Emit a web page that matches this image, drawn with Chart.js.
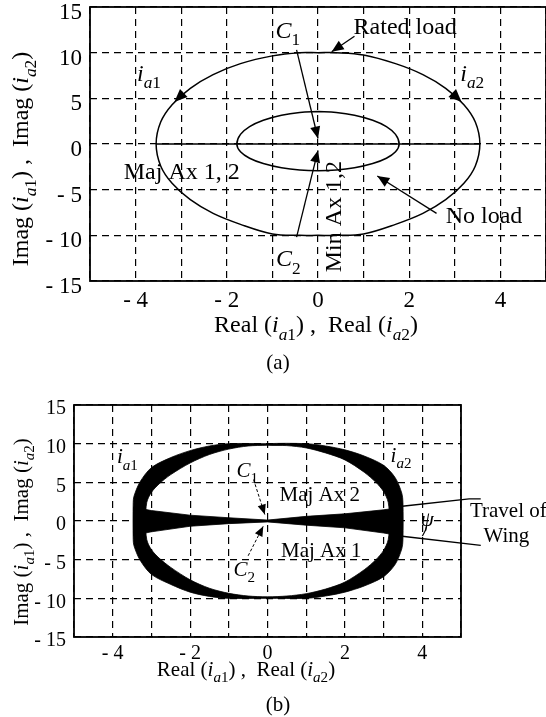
<!DOCTYPE html>
<html lang="en">
<head>
<meta charset="UTF-8">
<title>Current loci</title>
<script src="https://cdn.jsdelivr.net/npm/chart.js@4.4.0/dist/chart.umd.min.js"></script>
<style>
    body { margin: 0; background: #fff; }
    #wrap { position: relative; width: 546px; height: 717px; overflow: hidden; }
    #wrap canvas { position: absolute; left: 0; }
    #chartA { top: 0; }
    #chartB { top: 375px; }
</style>
</head>
<body>
<div id="wrap">
    <canvas id="chartA" width="546" height="375"></canvas>
    <canvas id="chartB" width="546" height="342"></canvas>
</div>
<script>
// ticks (both panels)
var xTickVals = [-5, -4, -3, -2, -1, 0, 1, 2, 3, 4, 5];
var xTickLabels = ['', '- 4', '', '- 2', '', '0', '', '2', '', '4', ''];
var yTickVals = [-15, -10, -5, 0, 5, 10, 15];
var yTickLabels = ['- 15', '- 10', '- 5', '0', '5', '10', '15'];

// (a) rated load locus, starting at the top
var ratedX = [0, -0.4, -1.0, -1.7, -2.3, -2.8, -3.2, -3.45, -3.55, -3.45, -3.2, -2.8, -2.3, -1.7, -1.0, -0.4, 0, 0.4, 1.0, 1.7, 2.3, 2.8, 3.2, 3.45, 3.55, 3.45, 3.2, 2.8, 2.3, 1.7, 1.0, 0.4, 0];
var ratedY = [10, 10, 9.65, 8.8, 7.6, 6.1, 4.3, 2.4, 0, -2.4, -4.3, -6.1, -7.6, -8.8, -9.85, -10, -10, -10, -9.85, -8.8, -7.6, -6.1, -4.3, -2.4, 0, 2.4, 4.3, 6.1, 7.6, 8.8, 9.75, 10, 10];
// (a) no load locus
var noLoadX = [0, -0.4, -0.8, -1.2, -1.5, -1.7, -1.78, -1.7, -1.5, -1.2, -0.8, -0.4, 0, 0.4, 0.8, 1.2, 1.5, 1.7, 1.78, 1.7, 1.5, 1.2, 0.8, 0.4, 0];
var noLoadY = [3.55, 3.45, 3.15, 2.6, 1.9, 1.05, 0, -0.86, -1.56, -2.14, -2.6, -2.85, -2.92, -2.85, -2.6, -2.14, -1.56, -0.86, 0, 1.05, 1.9, 2.6, 3.15, 3.45, 3.55];
// (a) major axis
var majAxX = [-3.55, 3.55];
var majAxY = [0, 0];
// (a) arrows: [x from, y from, x tip, y tip]
var arrowsA = [
    [-0.47, 10.3, 0, 0.6],
    [-0.47, -10.2, 0, -0.7],
    [0.8, 11.8, 0.3, 10.1],
    [2.6, -7.6, 1.3, -3.5]
];
var headsA = [
    [-2.95, 5.56, -3.15, 4.61],
    [2.95, 5.56, 3.15, 4.61]
];

// (b) band swept by the two loci, outer and inner edge
var ringOuterX = [0, -1.0, -1.5, -2.0, -2.5, -3.0, -3.3, -3.45, -3.47, -3.47, -3.45, -3.3, -3.0, -2.5, -2.0, -1.5, -1.0, 0, 1.0, 1.5, 2.0, 2.5, 3.0, 3.3, 3.47, 3.5, 3.5, 3.47, 3.3, 3.0, 2.5, 2.0, 1.5, 1.0, 0];
var ringOuterY = [10, 10, 9.7, 9.1, 8.2, 6.9, 5.0, 3.2, 2.4, -2.4, -3.2, -5.0, -6.9, -8.2, -9.2, -9.75, -10, -10, -10, -9.7, -9.2, -8.4, -7.2, -5.6, -3.6, -2.4, 2.4, 3.6, 5.6, 7.2, 8.4, 9.2, 9.7, 10, 10];
var ringInnerX = [0, -0.5, -1.0, -1.5, -2.0, -2.5, -2.8, -3.0, -3.12, -3.15, -3.12, -3.0, -2.8, -2.5, -2.0, -1.5, -1.0, -0.5, 0, 0.5, 1.0, 1.5, 2.0, 2.5, 2.8, 3.0, 3.12, 3.15, 3.12, 3.0, 2.8, 2.5, 2.0, 1.5, 1.0, 0.5, 0];
var ringInnerY = [9.8, 9.7, 9.3, 8.6, 7.5, 6.0, 4.8, 3.7, 2.4, 0, -2.4, -3.7, -4.8, -6.0, -7.6, -8.7, -9.35, -9.7, -9.8, -9.7, -9.4, -8.8, -7.9, -6.3, -5.0, -3.8, -2.4, 0, 2.4, 3.8, 5.0, 6.3, 7.9, 8.8, 9.45, 9.75, 9.8];
// (b) swept major axes (wedge)
var wedgeX = [-3.47, -3.0, -2.0, -1.0, 0, 1.0, 2.0, 3.0, 3.47, 3.47, 3.0, 2.0, 1.0, 0, -1.0, -2.0, -3.0, -3.47];
var wedgeY = [1.8, 1.35, 0.75, 0.42, 0.12, 0.6, 0.93, 1.45, 1.75, -1.95, -1.55, -0.88, -0.54, -0.12, -0.34, -0.68, -1.4, -1.87];
// (b) travel of wing lines and angle mark
var travelUpX = [5.51, 5.21, 3.48];
var travelUpY = [2.87, 2.87, 1.91];
var travelLoX = [5.51, 3.48];
var travelLoY = [-3.16, -1.97];
var psiArcX = [4.12, 4.08, 4.0];
var psiArcY = [-0.5, -1.2, -1.95];
var arrowsB = [
    [-0.36, 5.36, -0.07, 0.84],
    [-0.5, -4.5, -0.11, -0.67]
];

var FAM = '"Liberation Serif", "Times New Roman", serif';

function pts(xs, ys) {
    return xs.map(function (x, i) { return { x: x, y: ys[i] }; });
}

function ia(n) {
    return [['i', 'it'], ['a', 'it sub'], [n, 'sub']];
}

function drawRuns(ctx, runs, x, y, size, align, rot) {
    function fontFor(st) {
        var s = st.indexOf('sub') >= 0 ? size * 0.72 : size;
        return (st.indexOf('it') >= 0 ? 'italic ' : '') + s.toFixed(1) + 'px ' + FAM;
    }
    var w = 0;
    runs.forEach(function (r) { ctx.font = fontFor(r[1]); w += ctx.measureText(r[0]).width; });
    ctx.save();
    ctx.translate(x, y);
    if (rot) ctx.rotate(rot);
    var cx = align === 'left' ? 0 : -w / 2;
    ctx.textBaseline = 'middle';
    ctx.textAlign = 'left';
    ctx.fillStyle = '#000';
    runs.forEach(function (r) {
        ctx.font = fontFor(r[1]);
        var dy = r[1].indexOf('sub') >= 0 ? size * 0.38 : 0;
        ctx.fillText(r[0], cx, dy);
        cx += ctx.measureText(r[0]).width;
    });
    ctx.restore();
}

// frame, arrowheads, in-plot labels, axis titles and caption
var decor = {
    id: 'decor',
    afterDatasetsDraw: function (chart, args, opts) {
        var ctx = chart.ctx;
        var a = chart.chartArea;
        ctx.save();
        ctx.strokeStyle = '#000';
        ctx.lineWidth = 1.8;
        ctx.setLineDash([]);
        ctx.strokeRect(a.left, a.top, a.right - a.left, a.bottom - a.top);

        chart.data.datasets.forEach(function (ds, i) {
            if (!ds.arrowHead) return;
            var el = chart.getDatasetMeta(i).data;
            var p1 = el[el.length - 1], p0 = el[el.length - 2];
            var ang = Math.atan2(p1.y - p0.y, p1.x - p0.x);
            var L = ds.headLen, H = ds.headLen * 0.42;
            ctx.save();
            ctx.translate(p1.x, p1.y);
            ctx.rotate(ang);
            ctx.fillStyle = '#000';
            ctx.beginPath();
            ctx.moveTo(0, 0);
            ctx.lineTo(-L, -H);
            ctx.lineTo(-L, H);
            ctx.closePath();
            ctx.fill();
            ctx.restore();
        });

        var sx = chart.scales.x, sy = chart.scales.y;
        opts.labels.forEach(function (l) {
            drawRuns(ctx, l.runs, sx.getPixelForValue(l.x), sy.getPixelForValue(l.y), opts.size, l.align, l.rot);
        });
        var t = opts.titles;
        drawRuns(ctx, t.x.runs, t.x.px, t.x.py, t.size, 'center', 0);
        drawRuns(ctx, t.y.runs, t.y.px, t.y.py, t.size, 'center', -Math.PI / 2);
        drawRuns(ctx, [[t.cap.text, '']], t.cap.px, t.cap.py, t.cap.size, 'center', 0);
        ctx.restore();
    }
};

function lineSet(data, width, extra) {
    var d = { data: data, showLine: true, borderColor: '#000', borderWidth: width, pointRadius: 0, fill: false, tension: 0 };
    for (var k in extra) d[k] = extra[k];
    return d;
}

function arrowSets(list, width, head, dash) {
    return list.map(function (r) {
        return lineSet(pts([r[0], r[2]], [r[1], r[3]]), width, { arrowHead: true, headLen: head, borderDash: dash || [] });
    });
}

function makeOptions(cfg) {
    return {
        responsive: false,
        animation: false,
        events: [],
        layout: { padding: cfg.padding },
        plugins: {
            legend: { display: false },
            tooltip: { enabled: false },
            decor: cfg.decor
        },
        scales: {
            x: {
                type: 'linear', min: -5, max: 5,
                afterBuildTicks: function (s) { s.ticks = xTickVals.map(function (v) { return { value: v }; }); },
                afterFit: function (s) { s.height = cfg.xHeight; s.paddingLeft = 0; s.paddingRight = 0; },
                ticks: {
                    autoSkip: false, maxRotation: 0, padding: cfg.xPad, color: '#000',
                    font: { family: FAM, size: cfg.tick },
                    callback: function (v) { return xTickLabels[xTickVals.indexOf(v)]; }
                },
                grid: { color: '#000', lineWidth: 1.2, drawTicks: false },
                border: { display: false, dash: [7, 5] }
            },
            y: {
                type: 'linear', min: -15, max: 15,
                afterBuildTicks: function (s) { s.ticks = yTickVals.map(function (v) { return { value: v }; }); },
                afterFit: function (s) { s.width = cfg.yWidth; s.paddingTop = 0; s.paddingBottom = 0; },
                ticks: {
                    padding: 8, labelOffset: cfg.yOff, color: '#000',
                    font: { family: FAM, size: cfg.tick },
                    callback: function (v) { return yTickLabels[yTickVals.indexOf(v)]; }
                },
                grid: { color: '#000', lineWidth: 1.2, drawTicks: false },
                border: { display: false, dash: [7, 5] }
            }
        }
    };
}

Chart.register(decor);

// ---------- (a) ----------
var dsA = [
    lineSet(pts(ratedX, ratedY), 1.5, { tension: 0.35 }),
    lineSet(pts(noLoadX, noLoadY), 1.5, { tension: 0.35 }),
    lineSet(pts(majAxX, majAxY), 1.6, {})
].concat(arrowSets(arrowsA, 1.3, 12)).concat(arrowSets(headsA, 0, 13));

new Chart(document.getElementById('chartA'), {
    type: 'scatter',
    data: { datasets: dsA },
    options: makeOptions({
        padding: { top: 7, right: 0, bottom: 0, left: 0 },
        xHeight: 94, yWidth: 90, xPad: 6, yOff: 6, tick: 23,
        decor: {
            size: 24,
            labels: [
                { runs: [['C', 'it'], ['1', 'sub']], x: -0.66, y: 12.3 },
                { runs: [['C', 'it'], ['2', 'sub']], x: -0.65, y: -12.7 },
                { runs: ia('1'), x: -3.97, y: 7.6, align: 'left' },
                { runs: ia('2'), x: 3.12, y: 7.6, align: 'left' },
                { runs: [['Rated load', '']], x: 0.78, y: 12.75, align: 'left' },
                { runs: [['No load', '']], x: 2.8, y: -7.95, align: 'left' },
                { runs: [['Maj Ax 1, 2', '']], x: -4.26, y: -3.1, align: 'left' },
                { runs: [['Min Ax 1,2', '']], x: 0.36, y: -7.95, rot: -Math.PI / 2 }
            ],
            titles: {
                size: 24,
                x: { runs: [['Real (', '']].concat(ia('1'), [[') ,  Real (', '']], ia('2'), [[')', '']]), px: 316, py: 326 },
                y: { runs: [['Imag (', '']].concat(ia('1'), [[') ,  Imag (', '']], ia('2'), [[')', '']]), px: 22, py: 159 },
                cap: { text: '(a)', px: 278, py: 363, size: 21 }
            }
        }
    })
});

// ---------- (b) ----------
var ringData = pts(ringOuterX, ringOuterY).concat(pts(ringInnerX, ringInnerY).reverse());
var dsB = [
    lineSet(ringData, 0.8, { fill: 'shape', backgroundColor: '#000', tension: 0.3 }),
    lineSet(pts(wedgeX, wedgeY), 0.8, { fill: 'shape', backgroundColor: '#000' }),
    lineSet(pts(travelUpX, travelUpY), 1.3, { clip: false }),
    lineSet(pts(travelLoX, travelLoY), 1.3, { clip: false }),
    lineSet(pts(psiArcX, psiArcY), 1.2, { tension: 0.4 })
].concat(arrowSets(arrowsB, 1, 10, [3, 2]));

new Chart(document.getElementById('chartB'), {
    type: 'scatter',
    data: { datasets: dsB },
    options: makeOptions({
        padding: { top: 30, right: 85, bottom: 0, left: 0 },
        xHeight: 80, yWidth: 74, xPad: 5, yOff: 4, tick: 20,
        decor: {
            size: 21,
            labels: [
                { runs: ia('1'), x: -3.89, y: 8.2, align: 'left' },
                { runs: ia('2'), x: 3.18, y: 8.35, align: 'left' },
                { runs: [['C', 'it'], ['1', 'sub']], x: -0.52, y: 6.4 },
                { runs: [['C', 'it'], ['2', 'sub']], x: -0.6, y: -6.4 },
                { runs: [['Maj Ax 2', '']], x: 0.31, y: 3.3, align: 'left' },
                { runs: [['Maj Ax 1', '']], x: 0.35, y: -4.0, align: 'left' },
                { runs: [['\u03c8', 'it']], x: 4.13, y: 0.1 },
                { runs: [['Travel of', '']], x: 5.23, y: 1.27, align: 'left' },
                { runs: [['Wing', '']], x: 5.58, y: -1.96, align: 'left' }
            ],
            titles: {
                size: 21,
                x: { runs: [['Real (', '']].concat(ia('1'), [[') ,  Real (', '']], ia('2'), [[')', '']]), px: 246, py: 295 },
                y: { runs: [['Imag (', '']].concat(ia('1'), [[') ,  Imag (', '']], ia('2'), [[')', '']]), px: 22, py: 157 },
                cap: { text: '(b)', px: 278, py: 330, size: 21 }
            }
        }
    })
});
</script>
</body>
</html>
